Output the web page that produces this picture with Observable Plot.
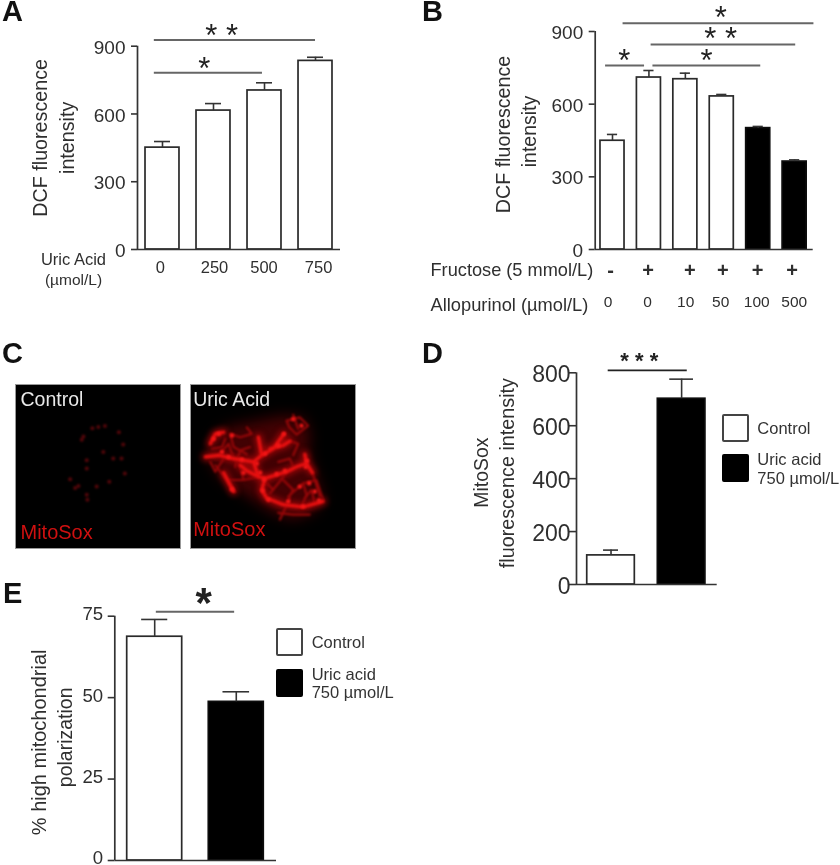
<!DOCTYPE html>
<html>
<head>
<meta charset="utf-8">
<script src="https://cdn.jsdelivr.net/npm/d3@7"></script>
<script src="https://cdn.jsdelivr.net/npm/@observablehq/plot@0.6"></script>
<style>
  html,body{margin:0;padding:0;background:#fff;}
  #page{position:relative;width:840px;height:865px;overflow:hidden;filter:blur(0.45px);font-family:"Liberation Sans",Arial,sans-serif;color:#2b2b2b;}
  #page>svg,#page>figure{position:absolute;margin:0;}
  .letter{position:absolute;font-weight:700;font-size:29px;line-height:22px;color:#111;}
  .swatch{position:absolute;box-sizing:border-box;border-radius:2px;width:27px;height:27.5px;}
  .leg{position:absolute;font-size:16.5px;line-height:19px;white-space:nowrap;color:#333;}
</style>
</head>
<body>
<div id="page"></div>
<script>
// ---------- Panel A ----------
const aDoses = ["0", "250", "500", "750"];
const aMeans = [451, 615, 704, 835];
const aTops = [478, 646, 738, 851];
const aTicks = [0, 300, 600, 900];
const aLabelAt = [-0.04, 1.02, 1.99, 3.06];
const aBrackets = [{from: -0.16, to: 3.0, at: 928}, {from: -0.16, to: 1.96, at: 782}];
const aStars = [{x: 1.16, at: 966, s: "* *"}, {x: 0.82, at: 822, s: "*"}];

// ---------- Panel B ----------
const bFructose = ["-", "+", "+", "+", "+", "+"];
const bAllopurinol = ["0", "0", "10", "50", "100", "500"];
const bMeans = [449, 710, 703, 632, 501, 363];
const bTops = [475, 739, 728, 640, 508, 370];
const bFills = ["white", "white", "white", "white", "black", "black"];
const bTicks = [0, 300, 600, 900];
const bFructoseAt = [-0.05, 0.98, 2.12, 3.03, 3.98, 4.93];
const bAlloAt = [-0.12, 0.96, 2.01, 2.97, 3.96, 4.99];
const bBrackets = [
  {from: 0.29, to: 5.53, at: 934}, {from: 1.06, to: 5.03, at: 846},
  {from: 1.11, to: 4.07, at: 760}, {from: -0.19, to: 0.88, at: 760}
];
const bStars = [
  {x: 2.97, at: 978, s: "*"}, {x: 2.97, at: 888, s: "* *"},
  {x: 2.58, at: 798, s: "*"}, {x: 0.32, at: 798, s: "*"}
];

// ---------- Panel D ----------
const dMeans = [110, 702];
const dTops = [130, 776];
const dTicks = [0, 200, 400, 600, 800];
const dBrackets = [{from: -0.04, to: 1.08, at: 809}];
const dStars = [{x: 0.40, at: 861, s: "* * *"}];

// ---------- Panel E ----------
const eMeans = [68.7, 48.7];
const eTops = [74, 51.8];
const eTicks = [0, 25, 50, 75];
const eBrackets = [{from: 0.02, to: 0.98, at: 76.4}];
const eStars = [{x: 0.60, at: 81, s: "*"}];

// ---------- Panel C: structures (image px) ----------
const uricHalo = [[70,160],[110,130],[180,115],[280,95],[340,100],[360,145],[355,205],[375,270],[400,345],[375,385],[310,410],[250,390],[160,330],[95,285],[55,225]];
const uricBright = [
  [[85,215],[130,225],[190,235],[205,280],[225,285],[290,265]],
  [[225,285],[215,320],[230,345],[280,365],[340,372],[400,355]],
  [[282,150],[250,195],[215,215],[190,235]],
  [[205,160],[215,215]],
  [[240,195],[280,185],[300,172]],
  [[60,180],[75,150],[100,145]],
  [[290,265],[320,250],[350,240],[345,212]],
  [[350,240],[368,268]],
  [[45,220],[85,215]],
  [[205,280],[170,262],[150,245]],
  [[100,268],[130,325]]
];
const uricFine = [
  [[290,110],[330,100],[355,125],[320,152],[298,130],[290,110]],
  [[310,92],[325,135]],
  [[150,160],[120,150],[130,190],[170,212]],
  [[75,245],[110,290],[135,325]],
  [[295,340],[340,300],[380,290],[400,350]],
  [[368,268],[390,340]],
  [[300,345],[270,410]],
  [[280,290],[310,320],[295,345]],
  [[340,300],[350,335],[335,372]],
  [[130,225],[115,180],[85,215]],
  [[150,245],[160,290],[205,280]],
  [[240,330],[265,300],[290,265]],
  [[265,390],[310,395],[360,395]],
  [[110,290],[160,290]],
  [[65,195],[95,190],[105,165]],
  [[170,130],[185,150],[150,160]],
  [[180,190],[150,200],[135,250]],
  [[100,225],[75,265],[60,235]],
  [[310,215],[325,180],[300,172]],
  [[265,235],[300,225],[310,250]],
  [[250,320],[230,300]],
  [[345,345],[365,320],[375,360]]
];
const uricSpots = [
  {x: 70, y: 165}, {x: 85, y: 150}, {x: 125, y: 155}, {x: 95, y: 205}, {x: 115, y: 220}, {x: 155, y: 228},
  {x: 200, y: 240}, {x: 210, y: 268}, {x: 222, y: 288}, {x: 260, y: 272}, {x: 285, y: 262}, {x: 218, y: 322},
  {x: 235, y: 350}, {x: 282, y: 150}, {x: 265, y: 185}, {x: 225, y: 210}, {x: 352, y: 232}, {x: 348, y: 250},
  {x: 310, y: 105}, {x: 335, y: 125}, {x: 295, y: 355}, {x: 340, y: 370}, {x: 388, y: 352}, {x: 125, y: 318},
  {x: 160, y: 268}, {x: 330, y: 310}, {x: 358, y: 300}, {x: 375, y: 325}
];
const controlSpots = [
  {x: 232, y: 133}, {x: 250, y: 129}, {x: 270, y: 126}, {x: 200, y: 168}, {x: 205, y: 158},
  {x: 265, y: 205}, {x: 295, y: 225}, {x: 325, y: 182}, {x: 180, y: 314}, {x: 190, y: 308},
  {x: 215, y: 335}, {x: 217, y: 350}, {x: 283, y: 295}, {x: 215, y: 255}, {x: 320, y: 225},
  {x: 330, y: 270}, {x: 165, y: 288}, {x: 215, y: 230}, {x: 312, y: 145}, {x: 245, y: 310}
];

const FONT = '"Liberation Sans", Arial, sans-serif';
const page = document.getElementById("page");

function blur(px) {
  return function (index, scales, values, dimensions, context, next) {
    const g = next(index, scales, values, dimensions, context);
    g.style.filter = `blur(${px}px)`;
    return g;
  };
}
const rows = (arr, id) => arr.map(([x, y]) => ({x, y, id}));
const strands = (list) => list.flatMap((s, i) => rows(s, i));

function titleMark(text, dx, dy, fontSize) {
  return Plot.text([text], {frameAnchor: "left", textAnchor: "middle", lineAnchor: "middle", dx, dy, rotate: -90, fontSize, fill: "#2f2f2f"});
}
function cornerText(text, anchor, dx, dy, fontSize, textAnchor) {
  return Plot.text([text], {frameAnchor: anchor, lineAnchor: "middle", dx, dy, fontSize, textAnchor, fill: "#2f2f2f"});
}

function barPanel(c) {
  const rowsData = c.means.map((m, i) => ({i, m, top: c.tops[i], fill: c.fills ? c.fills[i] : c.defaultFills[i]}));
  const tickSize = c.tickSize ?? 6;
  const marks = [
    Plot.rect(rowsData, {x1: d => d.i - c.half, x2: d => d.i + c.half, y1: 0, y2: "m", fill: "fill", stroke: d => d.fill === "black" ? "#0c0c0c" : "#2a2a2a", strokeWidth: 1.7}),
    Plot.ruleX(rowsData, {x: "i", y1: "m", y2: "top", stroke: "#333", strokeWidth: 1.6}),
    Plot.ruleY(rowsData, {y: "top", x1: d => d.i - c.caps[d.i], x2: d => d.i + c.caps[d.i], stroke: "#333", strokeWidth: 1.6}),
    Plot.ruleX([c.domainX[0]], {y1: c.domainY[0], y2: c.domainY[1], stroke: "#333", strokeWidth: 1.7}),
    Plot.ruleY([0], {stroke: "#333", strokeWidth: 1.7}),
    Plot.axisY({ticks: c.ticks, tickSize, label: null, stroke: "#333", strokeWidth: 1.6, fill: "none"}),
    Plot.axisY({ticks: c.ticks, tickSize: 0, tickPadding: tickSize + (c.tickPadding ?? 6), dy: c.labelDy, fontSize: c.tickFont, label: null, fill: "#2f2f2f", tickFormat: d => String(d)}),
    Plot.ruleY(c.brackets, {y: "at", x1: "from", x2: "to", stroke: c.bracketColor, strokeWidth: c.bracketWidth}),
    Plot.text(c.stars, {x: "x", y: "at", text: "s", fontSize: c.starFont, fontWeight: c.starWeight ?? "normal", dy: c.starDy, fill: "#222"}),
    ...c.extra
  ];
  const svg = Plot.plot({
    width: c.box.w, height: c.box.h,
    marginLeft: c.m[0], marginTop: c.m[1], marginRight: c.m[2], marginBottom: c.m[3],
    x: {domain: c.domainX, axis: null},
    y: {domain: c.domainY, axis: null},
    color: {type: "identity"},
    style: {background: "transparent", overflow: "visible", fontFamily: FONT},
    marks
  });
  svg.style.left = c.box.x + "px";
  svg.style.top = c.box.y + "px";
  page.appendChild(svg);
}

// Panel A
barPanel({
  box: {x: 0, y: 0, w: 350, h: 300}, m: [137, 45.7, 10, 51],
  domainX: [-0.49, 3.49], domainY: [0, 900], half: 0.333, caps: [0.157, 0.157, 0.157, 0.157],
  means: aMeans, tops: aTops, defaultFills: aMeans.map(() => "white"),
  ticks: aTicks, tickFont: 19, labelDy: 1.5, brackets: aBrackets, stars: aStars,
  bracketColor: "#666", bracketWidth: 2, starFont: 31, starDy: 5,
  extra: [
    titleMark("DCF fluorescence", -97, -10, 19.7),
    titleMark("intensity", -70, -10, 19.7),
    cornerText("Uric Acid", "bottom-left", -64, 10, 16.5, "middle"),
    cornerText("(µmol/L)", "bottom-left", -64, 31, 15.5, "middle"),
    Plot.text(aDoses, {x: aLabelAt, text: d => d, frameAnchor: "bottom", lineAnchor: "middle", dy: 18, fontSize: 16.5, fill: "#2f2f2f"})
  ]
});

// Panel B
barPanel({
  box: {x: 420, y: 0, w: 420, h: 320}, m: [174.7, 31, 27.3, 71],
  domainX: [-0.475, 5.51], domainY: [0, 900], half: 0.33, caps: [0.14, 0.14, 0.14, 0.14, 0.14, 0.14],
  means: bMeans, tops: bTops, fills: bFills,
  ticks: bTicks, tickFont: 19, labelDy: 1.5, brackets: bBrackets, stars: bStars,
  bracketColor: "#666", bracketWidth: 2, starFont: 31, starDy: 5,
  extra: [
    titleMark("DCF fluorescence", -91.7, -6, 19.7),
    titleMark("intensity", -65.7, -9, 19.5),
    cornerText("Fructose (5 mmol/L)", "bottom-left", -164.7, 21, 18.2, "start"),
    cornerText("Allopurinol (µmol/L)", "bottom-left", -164.7, 56, 18.3, "start"),
    Plot.text(bFructose, {x: bFructoseAt, text: d => d, frameAnchor: "bottom", lineAnchor: "middle", dy: 21, fontSize: 20, fontWeight: "bold", fill: "#2f2f2f"}),
    Plot.text(bAllopurinol, {x: bAlloAt, text: d => d, frameAnchor: "bottom", lineAnchor: "middle", dy: 52.7, fontSize: 15.5, fill: "#2f2f2f"})
  ]
});

// Panel D
barPanel({
  box: {x: 450, y: 335, w: 280, h: 262}, m: [126, 37.3, 13.3, 13],
  domainX: [-0.489, 1.504], domainY: [0, 800], half: 0.337, caps: [0.106, 0.168],
  means: dMeans, tops: dTops, defaultFills: ["white", "black"],
  ticks: dTicks, tickFont: 23, tickSize: 8, tickPadding: -2, labelDy: 2,
  brackets: dBrackets, stars: dStars,
  bracketColor: "#222", bracketWidth: 1.6, starFont: 22, starWeight: "bold", starDy: 4,
  extra: [
    titleMark("MitoSox", -94.3, -6, 19.4),
    titleMark("fluorescence intensity", -69.3, -5.5, 19.8)
  ]
});

// Panel E
barPanel({
  box: {x: 0, y: 575, w: 290, h: 290}, m: [114.3, 40.7, 14, 5],
  domainX: [-0.489, 1.493], domainY: [0, 75], half: 0.337, caps: [0.16, 0.163],
  means: eMeans, tops: eTops, defaultFills: ["white", "black"],
  ticks: eTicks, tickFont: 18.6, tickSize: 6.6, tickPadding: 5, labelDy: -2,
  brackets: eBrackets, stars: eStars,
  bracketColor: "#666", bracketWidth: 2, starFont: 42, starWeight: "bold", starDy: 7,
  extra: [
    titleMark("% high mitochondrial", -75, 4, 20),
    titleMark("polarization", -49.3, -1, 19.5)
  ]
});

// Panel C
function micrograph(x, y, name, nameX, mitoX, mitoY, layers) {
  const svg = Plot.plot({
    width: 165, height: 164, margin: 0,
    x: {domain: [0, 498], axis: null},
    y: {domain: [498, 0], axis: null},
    style: {background: "transparent", overflow: "visible", fontFamily: FONT},
    marks: [
      Plot.frame({fill: "black", stroke: "#999", strokeWidth: 1}),
      ...layers,
      Plot.text([name], {x: nameX, y: 46, text: d => d, textAnchor: "start", fontSize: 19.5, fill: "#e8e8e8"}),
      Plot.text(["MitoSox"], {x: mitoX, y: mitoY, text: d => d, textAnchor: "start", fontSize: 20, fill: "#cf1010"})
    ]
  });
  svg.style.left = x + "px";
  svg.style.top = y + "px";
  page.appendChild(svg);
}
micrograph(14.7, 384.3, "Control", 15, 15, 450, [
  Plot.dot(controlSpots, {x: "x", y: "y", r: 2, fill: "#56060a", render: blur(1.2)})
]);
micrograph(190.3, 384.3, "Uric Acid", 8, 8, 442, [
  Plot.line(uricHalo.concat([uricHalo[0]]), {x: d => d[0], y: d => d[1], fill: "#420103", stroke: "none", render: blur(7)}),
  Plot.line(strands(uricBright), {x: "x", y: "y", z: "id", stroke: "#a80608", strokeWidth: 7, fill: "none", render: blur(3)}),
  Plot.line(strands(uricFine), {x: "x", y: "y", z: "id", stroke: "#980608", strokeWidth: 2.2, fill: "none", render: blur(1.1)}),
  Plot.line(strands(uricBright), {x: "x", y: "y", z: "id", stroke: "#e81010", strokeWidth: 3.2, fill: "none", render: blur(1.2)}),
  Plot.dot(uricSpots, {x: "x", y: "y", r: 2.2, fill: "#f41616", render: blur(1.2)})
]);

// Panel letters and legends (HTML around the plots)
const letters = [["A", 2, 0], ["B", 422, 0], ["C", 2, 342], ["D", 422, 342], ["E", 3, 582]];
letters.forEach(([t, x, y]) => {
  const el = document.createElement("div");
  el.className = "letter"; el.textContent = t;
  el.style.left = x + "px"; el.style.top = y + "px";
  page.appendChild(el);
});
function legend(x, y1, y2, textX, tControl, tUric, tDose) {
  const sw = (y, fill) => {
    const el = document.createElement("div");
    el.className = "swatch";
    el.style.cssText = `left:${x}px;top:${y}px;background:${fill};border:2px solid ${fill === "black" ? "black" : "#444"};`;
    page.appendChild(el);
  };
  const tx = (t, y) => {
    const el = document.createElement("div");
    el.className = "leg"; el.textContent = t;
    el.style.left = textX + "px"; el.style.top = (y - 9.5) + "px";
    page.appendChild(el);
  };
  sw(y1, "white"); sw(y2, "black");
  tx("Control", tControl); tx("Uric acid", tUric); tx("750 µmol/L", tDose);
}
legend(721.7, 414.3, 454, 757.3, 428, 459, 478.3);
legend(276, 628.3, 669, 311.7, 642.7, 674, 692.3);
</script>
</body>
</html>
